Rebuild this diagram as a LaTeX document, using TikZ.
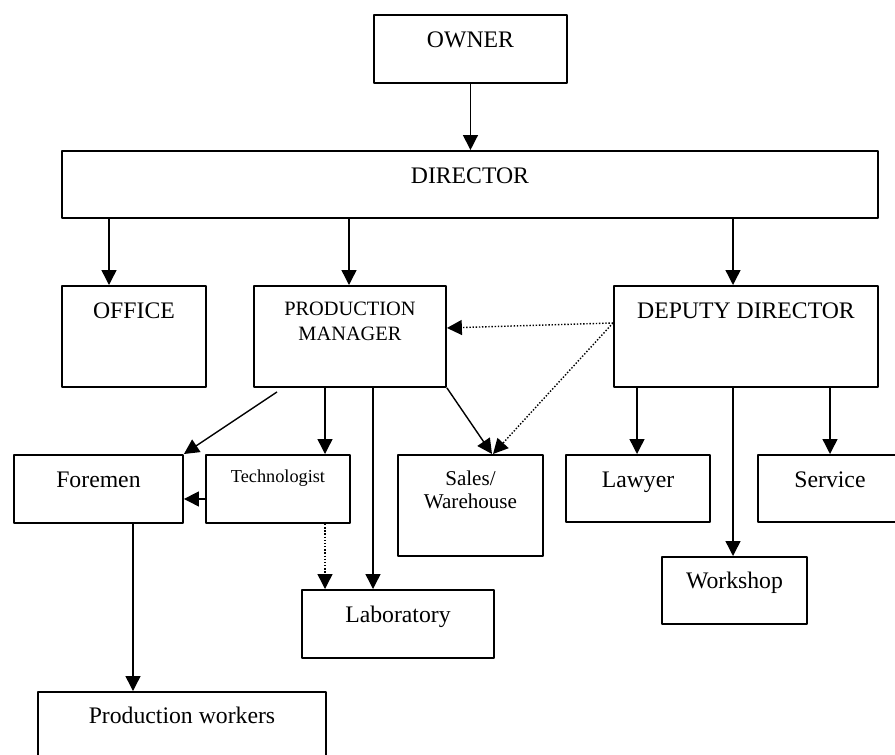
\documentclass[tikz,border=0pt]{standalone}
\usepackage{fontspec}
\setmainfont{Liberation Serif}
\usetikzlibrary{arrows.meta}
\newlength\pxu
\setlength\pxu{0.02cm}
\tikzset{
  orgbox/.style n args={3}{draw, line width=1.1pt, inner sep=0pt, anchor=north west,
    /utils/exec={\pgfmathsetlengthmacro\boxwd{#1*\pxu}\pgfmathsetlengthmacro\boxht{#3*\pxu}\pgfmathsetlengthmacro\boxdp{(#2-#3)*\pxu}},
    minimum width=\boxwd, text height=\boxht, text depth=\boxdp},
  conn/.style={line width=0.8pt, -{Triangle[length=8.5pt,width=8.5pt]}},
  dots/.style={conn, dash pattern=on 0.8pt off 1pt}
}
\begin{document}
\begin{tikzpicture}[x=\pxu, y=-\pxu, font=\fontsize{13.5}{16}\selectfont, line join=round]
\useasboundingbox (0,0) rectangle (895,754);
\node[orgbox={193}{68}{33}] (owner) at (373,14) {OWNER};
\node[orgbox={816}{67}{33}] (director) at (61,150) {DIRECTOR};
\node[orgbox={144}{101}{33}] (office) at (61,285) {OFFICE};
\node[orgbox={192}{101}{30}, font=\fontsize{11.6}{14.2}\selectfont] (pm) at (253,285)
  {\begin{tabular}[t]{@{}c@{}}PRODUCTION\\MANAGER\end{tabular}};
\node[orgbox={264}{101}{33}] (dd) at (613,285) {DEPUTY DIRECTOR};
\node[orgbox={169}{68}{33}] (foremen) at (13,454) {Foremen};
\node[orgbox={144}{68}{28}, font=\fontsize{10.4}{12}\selectfont] (tech) at (205,454) {Technologist};
\node[orgbox={145}{101}{31}, font=\fontsize{12}{13}\selectfont] (sales) at (397,454)
  {\begin{tabular}[t]{@{}c@{}}Sales/\\Warehouse\end{tabular}};
\node[orgbox={144}{67}{33}] (lawyer) at (565,454) {Lawyer};
\node[orgbox={144}{67}{33}] (service) at (757,454) {Service};
\node[orgbox={145}{67}{32}] (workshop) at (661,556) {Workshop};
\node[orgbox={192}{68}{33}] (lab) at (301,589) {Laboratory};
\node[orgbox={288}{70}{32}] (workers) at (37,691) {Production workers};
% solid links
\draw[conn] (owner.south) -- (owner.south |- director.north);
\foreach \t/\a/\b in {office/48/48, pm/288/96, dd/672/120}
  \draw[conn] ([xshift=\a*\pxu]director.south west) -- ([xshift=\b*\pxu]\t.north west);
\draw[conn] ([xshift=24*\pxu, yshift=-4*\pxu]pm.south west) -- (foremen.north east);
\draw[conn] ([xshift=72*\pxu]pm.south west) -- ([xshift=120*\pxu]tech.north west);
\draw[conn] ([xshift=120*\pxu]pm.south west) -- ([xshift=72*\pxu]lab.north west);
\draw[conn] (pm.south east) -- ([xshift=95*\pxu]sales.north west);
\draw[conn] ([yshift=-10*\pxu]tech.west) -- ([yshift=-10*\pxu]foremen.east);
\draw[conn] ([xshift=120*\pxu]foremen.south west) -- ([xshift=96*\pxu]workers.north west);
\foreach \t/\a/\b in {lawyer/24/72, workshop/120/72, service/217/73}
  \draw[conn] ([xshift=\a*\pxu]dd.south west) -- ([xshift=\b*\pxu]\t.north west);
% dotted links
\coordinate (ddin) at ([yshift=13.5*\pxu]dd.west);
\draw[dots] (ddin) -- ([yshift=8.5*\pxu]pm.east);
\draw[dots] (ddin) -- ([xshift=96*\pxu]sales.north west);
\draw[dots] ([xshift=120*\pxu]tech.south west) -- ([xshift=24*\pxu]lab.north west);
\end{tikzpicture}
\end{document}
